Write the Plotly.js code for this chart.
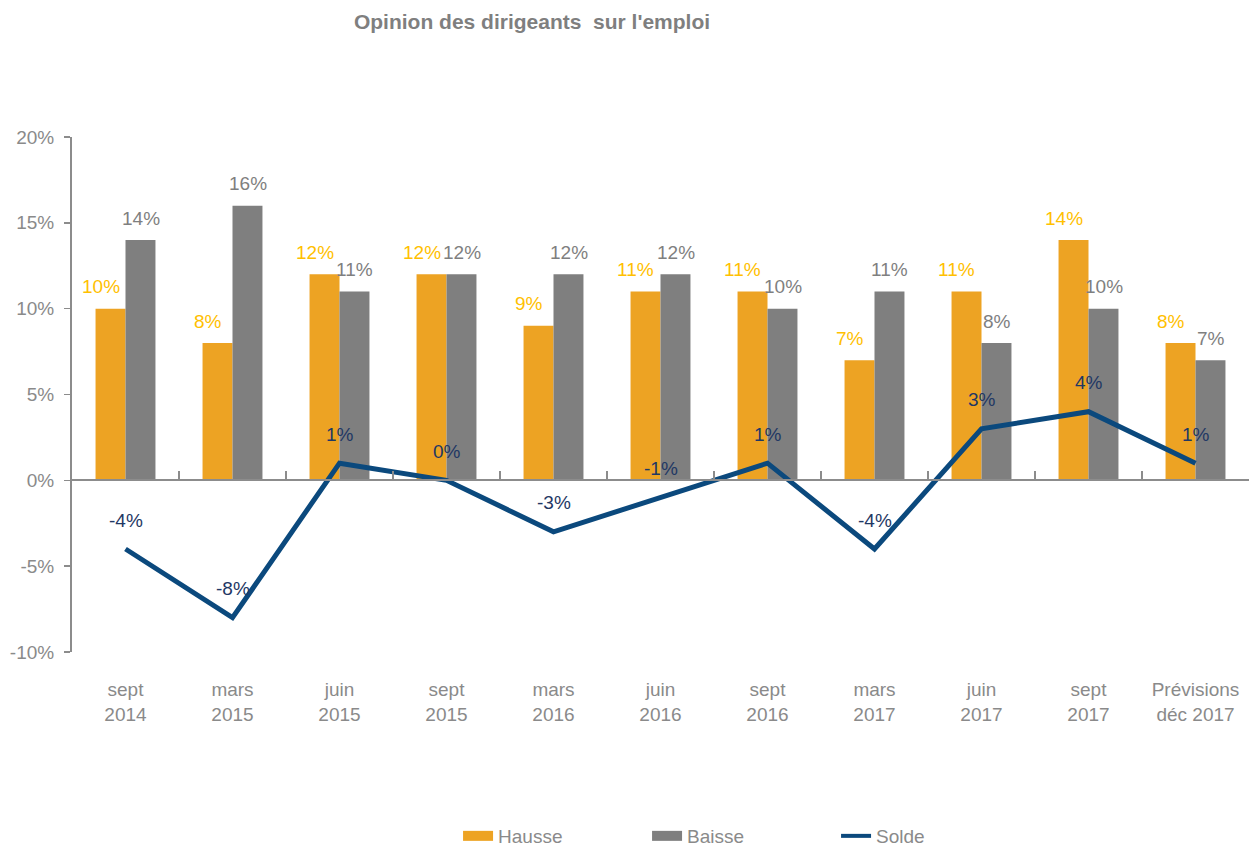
<!DOCTYPE html>
<html>
<head>
<meta charset="utf-8">
<script src="https://cdn.plot.ly/plotly-3.0.1.min.js"></script>
<style>
  html, body { margin: 0; padding: 0; background: #fff; }
  #chart { width: 1253px; height: 849px; }
</style>
</head>
<body>
<div id="chart"></div>
<script>
// values (percent)
var categories = ["sept<br>2014", "mars<br>2015", "juin<br>2015", "sept<br>2015", "mars<br>2016",
    "juin<br>2016", "sept<br>2016", "mars<br>2017", "juin<br>2017", "sept<br>2017", "Prévisions<br>déc 2017"];
var hausse = [10, 8, 12, 12, 9, 11, 11, 7, 11, 14, 8];
var baisse = [14, 16, 11, 12, 12, 12, 10, 11, 8, 10, 7];
var solde = [-4, -8, 1, 0, -3, -1, 1, -4, 3, 4, 1];

var yTicks = [-10, -5, 0, 5, 10, 15, 20];
var yTickText = ["-10%", "-5%", "0%", "5%", "10%", "15%", "20%"];

var FONT = '"Liberation Sans Narrow", "Arial Narrow", "Liberation Sans", Arial, sans-serif';
var FS = 19;
var ORANGE = "#EDA323";
var GREY = "#7F7F7F";
var NAVY = "#0B497D";
var TEXTGREY = "#8A8A8A";

var traces = [
    {
        type: "bar", x: categories, y: hausse, name: "Hausse",
        marker: {color: ORANGE}, showlegend: false, hoverinfo: "y"
    },
    {
        type: "bar", x: categories, y: baisse, name: "Baisse",
        marker: {color: GREY}, showlegend: false, hoverinfo: "y"
    },
    {
        type: "scatter", mode: "lines", x: categories, y: solde, name: "Solde",
        xaxis: "x2", line: {color: NAVY, width: 5}, showlegend: false
    },
    // legend entries only
    {type: "scatter", mode: "lines", x: [null], y: [null], name: "Hausse",
        line: {color: ORANGE, width: 10}},
    {type: "scatter", mode: "lines", x: [null], y: [null], name: "Baisse",
        line: {color: GREY, width: 10}},
    {type: "scatter", mode: "lines", x: [null], y: [null], name: "Solde",
        line: {color: NAVY, width: 4}}
];

function labels(values, color, dx, dy, xref) {
    return values.map(function (v, i) {
        return {
            x: categories[i], y: v, xref: xref, yref: "y",
            text: v + "%", showarrow: false,
            xshift: dx, yshift: dy,
            font: {family: FONT, size: FS, color: color}
        };
    });
}

var annotations = []
    .concat(labels(hausse, "#FFC000", -25, 22, "x"))
    .concat(labels(baisse, GREY, 15, 22, "x"))
    .concat(labels(solde, "#1F3864", 0, 29, "x2"));

var layout = {
    width: 1253,
    height: 849,
    paper_bgcolor: "#fff",
    plot_bgcolor: "#fff",
    margin: {l: 72, r: 4, t: 137, b: 197, autoexpand: false},
    font: {family: FONT, size: FS, color: TEXTGREY},
    title: {
        text: "<b>Opinion des dirigeants  sur l'emploi</b>",
        font: {family: FONT, size: 21, color: "#7F7F7F"},
        xref: "container", x: 0.4246, xanchor: "center",
        yref: "container", y: 0.974, yanchor: "middle"
    },
    barmode: "group",
    bargap: 0.44,
    bargroupgap: 0,
    showlegend: true,
    legend: {
        orientation: "h",
        x: 0.328, xanchor: "left",
        yref: "container", y: 0.0153, yanchor: "middle",
        entrywidth: 144, entrywidthmode: "pixels",
        font: {family: FONT, size: FS, color: TEXTGREY}
    },
    xaxis: {
        type: "category",
        categoryarray: categories,
        showline: false, showgrid: false, zeroline: false,
        ticks: "",
        ticklabelstandoff: 24,
        tickfont: {family: FONT, size: FS, color: TEXTGREY}
    },
    xaxis2: {
        type: "category",
        categoryarray: categories,
        overlaying: "x", matches: "x",
        anchor: "free", position: 1 / 3,
        showline: true, linecolor: "#8C8C8C", linewidth: 2,
        showgrid: false, zeroline: false,
        ticks: "inside", tickson: "boundaries", ticklen: 8,
        tickcolor: "#8C8C8C", tickwidth: 1.5,
        showticklabels: false
    },
    yaxis: {
        range: [-10, 20],
        tickvals: yTicks, ticktext: yTickText,
        showline: true, linecolor: "#8C8C8C", linewidth: 2,
        ticks: "outside", ticklen: 6, tickcolor: "#8C8C8C", tickwidth: 1.5,
        showgrid: false, zeroline: false,
        ticklabelstandoff: 6,
        tickfont: {family: FONT, size: FS, color: TEXTGREY}
    },
    annotations: annotations
};

Plotly.newPlot("chart", traces, layout, {displayModeBar: false, staticPlot: true});
</script>
</body>
</html>
